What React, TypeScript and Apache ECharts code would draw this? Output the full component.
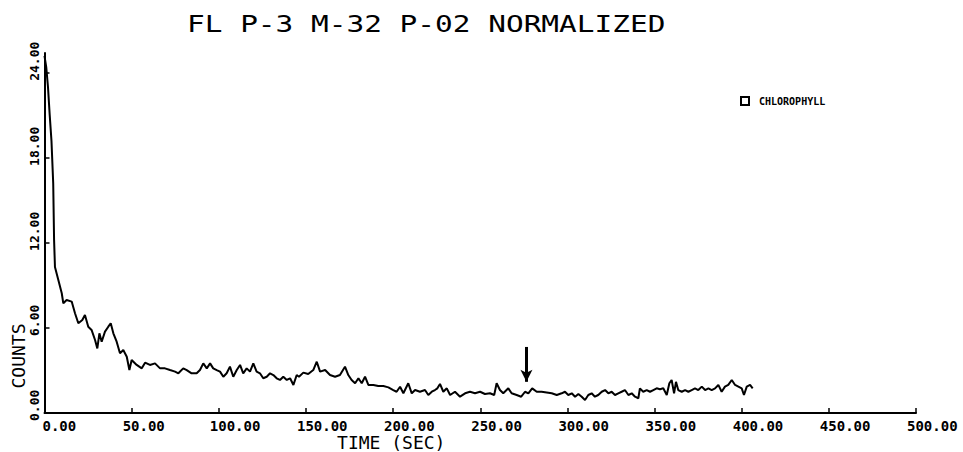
import React, { useEffect, useRef } from "react";
import * as echarts from "echarts";

const TITLE = "FL P-3 M-32 P-02 NORMALIZED";
const SERIES_NAME = "CHLOROPHYLL";
const X_NAME = "TIME (SEC)";
const Y_NAME = "COUNTS";
const X_TICKS = [0, 50, 100, 150, 200, 250, 300, 350, 400, 450, 500];
const Y_TICKS = [0, 6, 12, 18, 24];

const TIME_SEC = [
  0, 1, 2, 3, 4, 5, 5.5, 6, 7.9, 9.9,
  10.8, 12.7, 15.6, 17.5, 19.4, 21.7, 23.2, 25.1, 27, 29,
  30.3, 31.5, 32.8, 34.7, 36.6, 38, 39.5, 41.4, 43.3, 45.2,
  47.2, 48.7, 50, 52.9, 55.8, 57.7, 60.5, 63.4, 66.3, 69.1,
  72, 74.9, 76.8, 79.6, 81.6, 84.4, 87.3, 89.2, 91.1, 93.1,
  95, 96.8, 98.8, 100.7, 102.6, 104.5, 106.4, 108.3, 110.3, 112.2,
  114, 116, 117.9, 119.8, 121.7, 123.6, 125.5, 127.5, 129.4, 131.3,
  133.2, 135.1, 137, 139, 140.9, 142.8, 144.7, 146, 148.5, 151.3,
  154.2, 156.2, 158.1, 161, 163.8, 166.7, 169.5, 172.4, 174.3, 176.2,
  178.2, 180.1, 182, 183.9, 185.8, 188.7, 191.5, 194.4, 197.3, 200.1,
  202, 204, 205.9, 208.7, 210.7, 212.6, 215.4, 218.3, 220.2, 222.2,
  224, 225.4, 226.9, 228.8, 230.8, 232.7, 235.5, 238.4, 241.3, 244.1,
  247, 249.9, 252.7, 255.6, 258, 259.4, 261.3, 263.2, 266.1, 268,
  270.9, 273.5, 275.7, 277.6, 279.8, 282.4, 285.2, 288.1, 291, 293.9,
  296.7, 298.6, 300.5, 302.5, 304.4, 306.3, 308.2, 310.1, 312, 313.9,
  315.8, 317.7, 319.7, 321.6, 323.5, 325.4, 327.3, 329.2, 331.1, 333,
  335, 336.9, 338.8, 340.7, 341.6, 343.5, 345.5, 347.4, 349.3, 351.2,
  353.1, 355, 357, 358.5, 359.8, 361.2, 362.3, 363.6, 365.6, 367.5,
  369.4, 371.3, 373.2, 375.1, 377.1, 379, 380.9, 382.8, 384.7, 386.6,
  388.5, 390.4, 392.3, 394.3, 396.2, 398.1, 400, 401.3, 402.9, 404.8,
  406.3,
];

const COUNTS = [
  25.2, 24.4, 23.0, 21.0, 19.2, 16.2, 12.2, 10.3, 9.4, 8.45,
  7.74, 7.97, 7.86, 7.04, 6.33, 6.56, 6.92, 6.09, 5.86, 5.15,
  4.56, 5.62, 5.03, 5.74, 6.09, 6.33, 5.62, 5.03, 4.21, 4.45,
  3.97, 3.03, 3.74, 3.39, 3.15, 3.55, 3.39, 3.5, 3.15, 3.15,
  3.03, 2.92, 2.8, 3.15, 3.03, 2.8, 2.8, 3.03, 3.5, 3.15,
  3.5, 3.15, 3.03, 2.92, 2.56, 2.8, 3.27, 2.56, 3.03, 3.39,
  2.8, 3.15, 2.92, 3.5, 2.92, 2.8, 2.45, 2.56, 2.8, 2.68,
  2.45, 2.33, 2.56, 2.33, 2.45, 1.98, 2.68, 2.56, 2.85, 2.75,
  3.03, 3.62, 2.92, 3.03, 2.68, 2.56, 2.68, 3.27, 2.68, 2.33,
  2.1, 2.45, 2.1, 2.56, 1.98, 1.98, 1.9, 1.9, 1.81, 1.62,
  1.5, 1.85, 1.39, 2.1, 1.39, 1.62, 1.5, 1.62, 1.27, 1.5,
  1.62, 1.74, 2.05, 1.5, 1.74, 1.27, 1.5, 1.15, 1.39, 1.5,
  1.39, 1.5, 1.34, 1.39, 1.27, 2.1, 1.62, 1.39, 1.74, 1.39,
  1.27, 1.15, 1.5, 1.39, 1.74, 1.5, 1.5, 1.45, 1.39, 1.27,
  1.39, 1.5, 1.27, 1.39, 1.15, 1.34, 1.15, 0.92, 1.27, 1.39,
  1.15, 1.27, 1.5, 1.62, 1.39, 1.5, 1.27, 1.39, 1.5, 1.62,
  1.27, 1.39, 1.15, 1.04, 1.74, 1.5, 1.62, 1.5, 1.62, 1.74,
  1.68, 1.74, 1.27, 2.1, 2.33, 1.39, 2.2, 1.62, 1.5, 1.62,
  1.5, 1.62, 1.74, 1.62, 1.86, 1.62, 1.74, 1.62, 1.74, 1.98,
  1.5, 1.86, 1.98, 2.33, 1.98, 1.86, 1.74, 1.27, 1.86, 1.98,
  1.74,
];

const ARROW_TIME = 276.5;
const ARROW_FROM = 4.66;
const ARROW_TO = 2.2;

const MONO = "'DejaVu Sans Mono', 'Liberation Mono', monospace";

export default function App() {
  const ref = useRef<HTMLDivElement>(null);

  useEffect(() => {
    if (!ref.current) return;
    const chart = echarts.init(ref.current, null, { renderer: "svg" });
    const data = TIME_SEC.map((t, i) => [t, COUNTS[i]]);
    const labelFont = {
      fontFamily: MONO,
      fontSize: 14,
      lineHeight: 14,
      fontWeight: "bold" as const,
      color: "#000",
    };

    chart.setOption({
      animation: false,
      backgroundColor: "#fff",
      grid: { left: 44.5, right: 47, top: 53, bottom: 39, outerBoundsMode: "none" },
      graphic: [
        {
          type: "text",
          x: 187,
          y: 24,
          scaleX: 1.28,
          silent: true,
          style: {
            text: TITLE,
            fontFamily: MONO,
            fontSize: 23,
            fill: "#000",
            align: "left",
            verticalAlign: "middle",
          },
        },
      ],
      legend: {
        data: [SERIES_NAME],
        left: 735,
        top: 91,
        icon: "rect",
        itemWidth: 8,
        itemHeight: 8,
        itemStyle: { color: "#fff", borderColor: "#000", borderWidth: 2 },
        textStyle: {
          fontFamily: MONO,
          fontSize: 10,
          fontWeight: "bold",
          color: "#000",
          padding: [0, 0, 0, 5],
        },
      },
      xAxis: {
        type: "value",
        min: 0,
        max: 500,
        interval: 50,
        name: X_NAME,
        nameLocation: "middle",
        nameGap: 20,
        nameMoveOverlap: false,
        nameTextStyle: {
          fontFamily: MONO,
          fontSize: 18,
          lineHeight: 18,
          color: "#000",
          padding: [0, 178, 0, 0],
        },
        axisLine: { show: true, lineStyle: { color: "#000", width: 2 } },
        axisTick: {
          show: true,
          inside: true,
          length: 5,
          customValues: X_TICKS,
          lineStyle: { color: "#000", width: 1.5 },
        },
        axisLabel: {
          customValues: X_TICKS,
          interval: 0,
          margin: 6,
          align: "left",
          padding: [0, 0, 0, -9],
          ...labelFont,
          formatter: (v: number) => (v === 0 ? `{z|${v.toFixed(2)}}` : `{n|${v.toFixed(2)}}`),
          rich: {
            z: { ...labelFont, padding: [0, 0, 0, 7] },
            n: { ...labelFont },
          },
        },
        splitLine: { show: false },
      },
      yAxis: {
        type: "value",
        min: 0,
        max: 25.4,
        name: Y_NAME,
        nameLocation: "middle",
        nameRotate: 90,
        nameGap: 17,
        nameMoveOverlap: false,
        nameTextStyle: { fontFamily: MONO, fontSize: 18, color: "#000", padding: [0, 246, 0, 0] },
        axisLine: { show: true, lineStyle: { color: "#000", width: 2 } },
        axisTick: {
          show: true,
          inside: true,
          length: 5,
          customValues: Y_TICKS,
          lineStyle: { color: "#000", width: 1.5 },
        },
        axisLabel: {
          customValues: Y_TICKS,
          rotate: 90,
          align: "left",
          verticalAlign: "bottom",
          margin: 4,
          padding: [0, 0, 0, -8],
          fontFamily: MONO,
          fontSize: 13,
          fontWeight: "bold",
          color: "#000",
          formatter: (v: number) => v.toFixed(2),
        },
        splitLine: { show: false },
      },
      series: [
        {
          type: "line",
          name: SERIES_NAME,
          data,
          symbol: "none",
          showSymbol: false,
          clip: false,
          lineStyle: { color: "#000", width: 2 },
          itemStyle: { color: "#000" },
          emphasis: { disabled: true },
          markLine: {
            silent: true,
            symbol: ["none", "arrow"],
            symbolSize: [9, 12],
            label: { show: false },
            lineStyle: { color: "#000", width: 3, type: "solid" },
            emphasis: { disabled: true },
            data: [[{ coord: [ARROW_TIME, ARROW_FROM] }, { coord: [ARROW_TIME, ARROW_TO] }]],
          },
        },
      ],
    });

    return () => chart.dispose();
  }, []);

  return (
    <div
      ref={ref}
      style={{ position: "fixed", left: 0, top: 0, width: 963, height: 452, background: "#fff" }}
    />
  );
}
